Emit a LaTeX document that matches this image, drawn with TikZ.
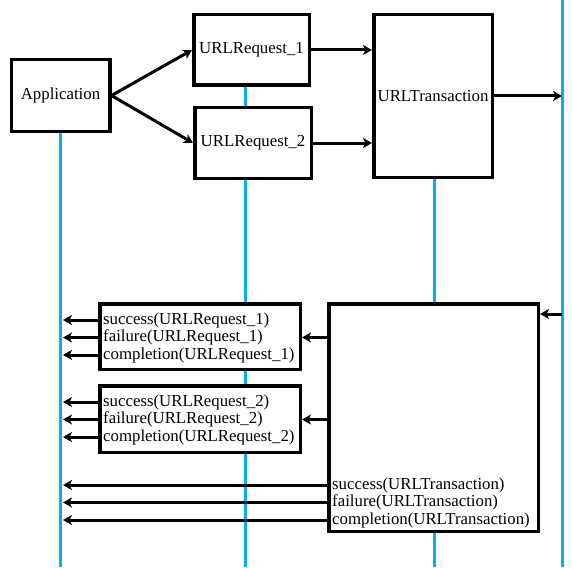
\documentclass[tikz,border=0pt]{standalone}
\usepackage{fontspec}
\setmainfont{Liberation Serif}
\usetikzlibrary{arrows.meta,backgrounds,calc}

\definecolor{lifeblue}{RGB}{0,176,240}
\tikzset{
  objbox/.style={draw,line width=3.5pt,fill=white,inner sep=0pt,font=\fontsize{16.8}{18}\selectfont},
  lifeline/.style={draw=lifeblue,line width=3pt},
  msg/.style={line width=3pt,-{Stealth[length=9pt,width=10pt,inset=2.5pt]}},
  cbline/.style={anchor=west,inner sep=0pt,font=\fontsize{16.8}{18}\selectfont},
}

\begin{document}
\begin{tikzpicture}[x=1pt,y=-1pt]
  \useasboundingbox (0,0) rectangle (572,567);
  \coordinate (appEnd) at (63,567);
  \coordinate (reqEnd) at (245,567);
  \coordinate (transEnd) at (434,567);
  \coordinate (wire) at (562,0);
  \coordinate (wireEnd) at (562,567);
  \coordinate (ret) at (562,314);
  % objects
  \node[objbox,minimum width=98.5pt,minimum height=71.5pt] (app) at (60.5,95.5) {Application};
  \node[objbox,minimum width=115.5pt,minimum height=70.5pt] (req1) at (251.5,50) {URLRequest\_1};
  \node[objbox,minimum width=116.5pt,minimum height=70.5pt] (req2) at (253,143) {URLRequest\_2};
  \node[objbox,minimum width=118.5pt,minimum height=162.5pt] (trans) at (433,96) {URLTransaction};
  % callback boxes
  \node[objbox,minimum width=200.5pt,minimum height=65.5pt] (cb1) at (200,336.5) {};
  \node[objbox,minimum width=200.5pt,minimum height=66.5pt] (cb2) at (200,419) {};
  \node[objbox,minimum width=209.5pt,minimum height=227.5pt] (cbT) at (433.5,417.5) {};
  \begin{scope}[on background layer]
    \draw[lifeline] (app.south) -- (app.south |- appEnd);
    \draw[lifeline] (req1.south -| reqEnd) -- (reqEnd);
    \draw[lifeline] (trans.south -| transEnd) -- (transEnd);
    \draw[lifeline] (wire) -- (wireEnd);
  \end{scope}
  % requests
  \draw[msg] (app.east) -- (req1.west);
  \draw[msg] (app.east) -- (req2.west);
  \draw[msg] (req1.east) -- (req1.east -| trans.west);
  \draw[msg] (req2.east) -- (req2.east -| trans.west);
  \draw[msg] (trans.east) -- (trans.east -| wire);
  \draw[msg] (ret) -- (cbT.east |- ret);
  % callbacks
  \foreach \ev/\yy in {success/0,failure/17.5,completion/35}{
    \node[cbline] (\ev1) at (103,320+\yy) {\ev(URLRequest\_1)};
    \node[cbline] (\ev2) at (103,402+\yy) {\ev(URLRequest\_2)};
    \node[cbline] (\ev T) at (332,485+\yy) {\ev(URLTransaction)};
    \draw[msg] (cb1.west |- \ev1) -- (appEnd |- \ev1);
    \draw[msg] (cb2.west |- \ev2) -- (appEnd |- \ev2);
    \draw[msg] (cbT.west |- \ev T) -- (appEnd |- \ev T);
  }
  \draw[msg] (cbT.west |- failure1) -- (cb1.east |- failure1);
  \draw[msg] (cbT.west |- failure2) -- (cb2.east |- failure2);
\end{tikzpicture}
\end{document}
